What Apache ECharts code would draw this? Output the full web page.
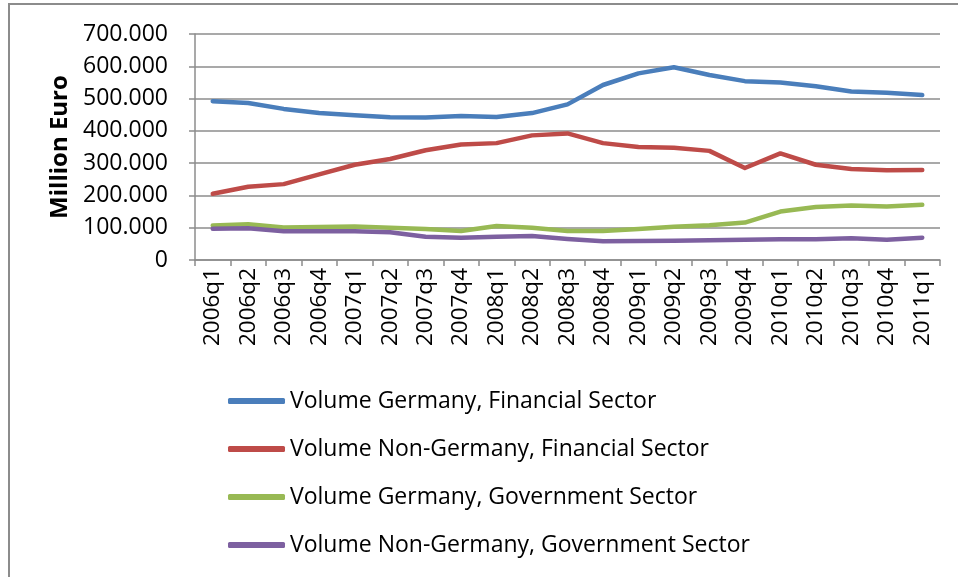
<!DOCTYPE html>
<html>
<head>
<meta charset="utf-8">
<script src="https://cdn.jsdelivr.net/npm/echarts@6/dist/echarts.min.js"></script>
<style>
  html, body { margin: 0; padding: 0; background: #fff; overflow: hidden; }
  .frame {
    position: absolute;
    left: 8px; top: 3px;
    width: 980px; height: 600px;
    border-top: 2px solid #8c8c8c;
    border-left: 2px solid #8c8c8c;
  }
  #chart { position: absolute; left: 0; top: 0; width: 958px; height: 577px; }
</style>
</head>
<body>
<div class="frame"></div>
<div id="chart"></div>
<script>
const quarters = ['2006q1', '2006q2', '2006q3', '2006q4', '2007q1', '2007q2', '2007q3', '2007q4',
  '2008q1', '2008q2', '2008q3', '2008q4', '2009q1', '2009q2', '2009q3', '2009q4',
  '2010q1', '2010q2', '2010q3', '2010q4', '2011q1']

// Million Euro
const germanyFinancial = [492000, 486000, 468000, 455000, 448000, 442000, 441000, 446000, 443000, 455000, 482000,
  542000, 578000, 597000, 573000, 554000, 550000, 538000, 522000, 518000, 511000]
const nonGermanyFinancial = [205000, 227000, 235000, 265000, 295000, 313000, 340000, 358000, 362000, 386000, 392000,
  362000, 350000, 348000, 338000, 285000, 330000, 295000, 282000, 278000, 279000]
const germanyGovernment = [107000, 111000, 101000, 102000, 104000, 100000, 96000, 90000, 105000, 100000, 90000,
  90000, 96000, 103000, 108000, 116000, 150000, 164000, 169000, 166000, 171000]
const nonGermanyGovernment = [97000, 98000, 89000, 89000, 89000, 86000, 72000, 69000, 72000, 74000, 65000,
  58000, 59000, 60000, 61000, 63000, 64000, 64000, 67000, 63000, 69000]

const seriesNames = ['Volume Germany, Financial Sector', 'Volume Non-Germany, Financial Sector',
  'Volume Germany, Government Sector', 'Volume Non-Germany, Government Sector']
const seriesColors = ['#4a7ebb', '#be4b48', '#98b954', '#7d60a0']
const seriesData = [germanyFinancial, nonGermanyFinancial, germanyGovernment, nonGermanyGovernment]

const font = '"Open Sans", "Noto Sans", sans-serif'
const grey = '#8c8c8c'

function fmt(v) {
  if (v === 0) return '0'
  return String(v).replace(/\B(?=(\d{3})+(?!\d))/g, '.')
}

const myChart = echarts.init(document.getElementById('chart'))
myChart.setOption({
  animation: false,
  textStyle: { fontFamily: font },
  grid: { left: 195, right: 18, top: 34, bottom: 317 },
  legend: {
    orient: 'vertical',
    left: 223,
    top: 382,
    icon: 'roundRect',
    itemWidth: 57,
    itemHeight: 6,
    itemGap: 20,
    textStyle: { fontSize: 23, color: '#000', fontFamily: font, lineHeight: 28 },
    data: seriesNames
  },
  xAxis: {
    type: 'category',
    data: quarters,
    boundaryGap: true,
    axisLine: { lineStyle: { color: grey, width: 1.5 } },
    axisTick: { show: true, length: 6, alignWithLabel: false, lineStyle: { color: grey, width: 1.5 } },
    axisLabel: { rotate: 90, interval: 0, fontSize: 22.5, color: '#000', margin: 8 }
  },
  yAxis: {
    type: 'value',
    min: 0,
    max: 700000,
    interval: 100000,
    name: 'Million Euro',
    nameLocation: 'middle',
    nameGap: 119,
    nameTextStyle: { fontSize: 24, fontWeight: 'bold', color: '#000' },
    axisLine: { show: true, lineStyle: { color: grey, width: 1.5 } },
    axisTick: { show: true, length: 6, lineStyle: { color: grey, width: 1.5 } },
    splitLine: { lineStyle: { color: grey, width: 1.5 } },
    axisLabel: { fontSize: 23, color: '#000', margin: 27, formatter: fmt }
  },
  series: seriesData.map((d, i) => ({
    name: seriesNames[i],
    type: 'line',
    data: d,
    showSymbol: false,
    symbol: 'none',
    color: seriesColors[i],
    lineStyle: { width: 4.5, color: seriesColors[i], cap: 'round', join: 'round' }
  }))
})
</script>
</body>
</html>
